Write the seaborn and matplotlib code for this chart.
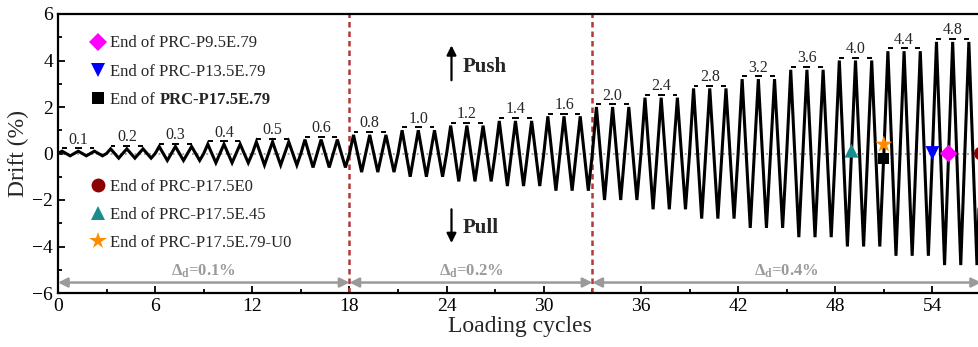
import numpy as np
import pandas as pd
import matplotlib
matplotlib.use("Agg")
import matplotlib.pyplot as plt
from matplotlib.lines import Line2D
import seaborn as sns

# ---------------- data ----------------
amplitudes = [0.1, 0.2, 0.3, 0.4, 0.5, 0.6,
              0.8, 1.0, 1.2, 1.4, 1.6,
              2.0, 2.4, 2.8, 3.2, 3.6, 4.0, 4.4, 4.8]
amp_labels = ["0.1", "0.2", "0.3", "0.4", "0.5", "0.6",
              "0.8", "1.0", "1.2", "1.4", "1.6",
              "2.0", "2.4", "2.8", "3.2", "3.6", "4.0", "4.4", "4.8"]
cycles_per_level = 3
stage_bounds = [0, 18, 33, 57]
stage_labels = ["0.1%", "0.2%", "0.4%"]
stage_label_x = [9, 25.5, 45]

end_labels = ["End of PRC-P9.5E.79", "End of PRC-P13.5E.79", "End of PRC-P17.5E.79",
              "End of PRC-P17.5E0", "End of PRC-P17.5E.45", "End of PRC-P17.5E.79-U0"]
end_x = [55.0, 54.0, 51.0, 57.0, 49.0, 51.0]
end_y = [0.0, 0.02, -0.23, 0.0, 0.12, 0.39]
end_colors = ["#FF00FF", "#0000FF", "#000000", "#8B0000", "#1A8C8C", "#FF8C00"]
end_markers = ["D", "v", "s", "o", "^", "*"]
end_sizes = [9, 10, 8, 10, 10, 13]

# loading history built from the protocol (cycle -> +A -> -A -> 0)
xs, ys = [0.0], [0.0]
for k, A in enumerate(amplitudes):
    for c in range(cycles_per_level):
        i = k * cycles_per_level + c
        xs += [i + 0.25, i + 0.75, i + 1.0]
        ys += [A, -A, 0.0]
df = pd.DataFrame({"cycle": xs, "drift": ys})

# ---------------- style ----------------
sns.set_style("ticks")
plt.rcParams["font.family"] = ["Liberation Serif", "DejaVu Serif"]
plt.rcParams["mathtext.fontset"] = "custom"
plt.rcParams["mathtext.rm"] = "Liberation Serif"
plt.rcParams["mathtext.it"] = "Liberation Serif:italic"
plt.rcParams["mathtext.bf"] = "Liberation Serif:bold"

W, H = 979, 347
fig = plt.figure(figsize=(W / 100, H / 100), dpi=100)
ax = fig.add_axes([58 / W, 54 / H, (981 - 58) / W, (293 - 14) / H])

ax.axhline(0, color="#9a9a9a", ls=":", lw=1.3, zorder=1)

sns.lineplot(data=df, x="cycle", y="drift", sort=False, estimator=None,
             color="black", lw=2.2, ax=ax, zorder=3)
ax.lines[-1].set_solid_joinstyle("miter")

# amplitude marks and labels
dash_off = 0.12
for k, A in enumerate(amplitudes):
    peaks = [k * cycles_per_level + c + 0.25 for c in range(cycles_per_level)]
    yl = A + dash_off
    ax.hlines(yl, peaks[0], peaks[0] + 0.3, color="black", lw=1.4, zorder=4)
    ax.hlines(yl, peaks[1] - 0.22, peaks[1] + 0.22, color="black", lw=1.4, zorder=4)
    ax.hlines(yl, peaks[2] - 0.3, peaks[2], color="black", lw=1.4, zorder=4)
    ax.text(peaks[1], yl + 0.03, amp_labels[k], ha="center", va="bottom",
            fontsize=11.5, zorder=5)

# stage separators
for b in stage_bounds[1:-1]:
    ax.axvline(b, color="#B03A3A", ls=(0, (2.2, 1.6)), lw=1.8, zorder=2)

# stage arrows
for s in range(len(stage_labels)):
    ax.annotate("", xy=(stage_bounds[s], -5.55), xytext=(stage_bounds[s + 1], -5.55),
                arrowprops=dict(arrowstyle="<|-|>", color="#9a9a9a", lw=1.8,
                                shrinkA=0, shrinkB=0, mutation_scale=14))
    ax.text(stage_label_x[s], -5.05, r"$\mathbf{\Delta}_{\mathbf{d}}$=" + stage_labels[s],
            ha="center", va="center", color="#9a9a9a", fontsize=12, fontweight="bold")

# push / pull
ax.annotate("", xy=(24.3, 4.65), xytext=(24.3, 3.15),
            arrowprops=dict(arrowstyle="-|>", color="black", lw=1.6,
                            shrinkA=0, shrinkB=0, mutation_scale=14))
ax.text(25.0, 3.72, "Push", fontsize=15, fontweight="bold", ha="left", va="center")
ax.annotate("", xy=(24.3, -3.85), xytext=(24.3, -2.4),
            arrowprops=dict(arrowstyle="-|>", color="black", lw=1.6,
                            shrinkA=0, shrinkB=0, mutation_scale=14))
ax.text(25.0, -3.2, "Pull", fontsize=15, fontweight="bold", ha="left", va="center")

# end-of-test markers
for i in range(len(end_labels)):
    sns.scatterplot(x=[end_x[i]], y=[end_y[i]], marker=end_markers[i],
                    s=end_sizes[i] ** 2, color=end_colors[i], edgecolor="none",
                    ax=ax, zorder=6, legend=False)

handles = [Line2D([], [], ls="none", marker=end_markers[i], color=end_colors[i],
                  markersize=end_sizes[i], markeredgewidth=0) for i in range(6)]
leg_kw = dict(frameon=False, fontsize=12, handlelength=1.0, handletextpad=0.25,
              labelspacing=0.73, borderaxespad=0, loc="upper left")
leg1 = ax.legend(handles[:3], ["End of PRC-P9.5E.79", "End of PRC-P13.5E.79", "End of "],
                 bbox_to_anchor=(0.027, 0.947), **leg_kw)
ax.add_artist(leg1)
leg2 = ax.legend(handles[3:], end_labels[3:], bbox_to_anchor=(0.027, 0.434), **leg_kw)
bold_txt = leg1.get_texts()[2]
ax.annotate("PRC-P17.5E.79", xy=(1, 0), xycoords=bold_txt, ha="left", va="bottom",
            fontsize=12, fontweight="bold", zorder=10)

# axes
ax.set_xlim(0, 57)
ax.set_ylim(-6, 6)
ax.set_xticks(np.arange(0, 55, 6))
ax.set_xticks(np.arange(0, 58, 3), minor=True)
ax.set_yticks(np.arange(-6, 7, 2))
ax.set_yticks(np.arange(-6, 7, 1), minor=True)
ax.tick_params(which="both", direction="in", top=False, right=False,
               labelsize=14, width=1.3, colors="black")
ax.tick_params(which="major", length=5)
ax.tick_params(which="minor", length=3)
for sp in ax.spines.values():
    sp.set_linewidth(1.6)
    sp.set_color("black")
ax.set_xlabel("Loading cycles", fontsize=17, labelpad=1)
ax.set_ylabel("Drift (%)", fontsize=17, labelpad=2)

fig.savefig("out.png", dpi=100)
